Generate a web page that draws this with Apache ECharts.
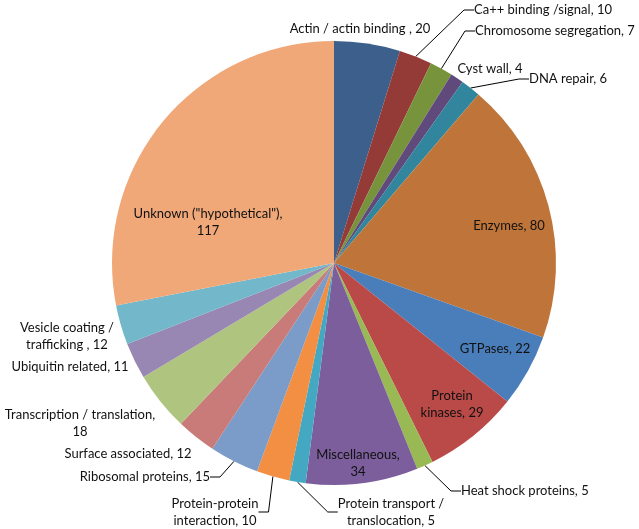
<!DOCTYPE html>
<html>
<head>
<meta charset="utf-8">
<script src="https://cdn.jsdelivr.net/npm/echarts@6/dist/echarts.min.js"></script>
<style>
  html, body { margin: 0; padding: 0; background: #fff; }
  #main { width: 639px; height: 529px; }
</style>
</head>
<body>
<div id="main"></div>
<script>
// categories and counts, clockwise from 12 o'clock
const categories = [
  "Actin / actin binding ",
  "Ca++ binding /signal",
  "Chromosome segregation",
  "Cyst wall",
  "DNA repair",
  "Enzymes",
  "GTPases",
  "Protein\nkinases",
  "Heat shock proteins",
  "Miscellaneous,\n",
  "Protein transport /\ntranslocation",
  "Protein-protein\ninteraction",
  "Ribosomal proteins",
  "Surface associated",
  "Transcription / translation,\n",
  "Ubiquitin related",
  "Vesicle coating /\ntrafficking ",
  "Unknown (\"hypothetical\"),\n"
];
const counts = [20, 10, 7, 4, 6, 80, 22, 29, 5, 34, 5, 10, 15, 12, 18, 11, 12, 117];

const colors = [
  "#3c5f8c", "#943a37", "#77933c", "#5f4a7b", "#31859c", "#bf7539",
  "#4a7ebb", "#b94a47", "#98b954", "#7b5e9b", "#45a8c2", "#f28f43",
  "#7b9bc8", "#c97b79", "#aec47f", "#9886b3", "#73b7ca", "#f0a878"
];

// label placement (x, y, align) and whether a leader line is drawn
const labelPos = [
  [360, 29, "center", false],
  [474, 10, "left", true],
  [475, 31, "left", true],
  [490, 69, "center", false],
  [529, 79, "left", true],
  [509, 226, "center", false],
  [495, 349, "center", false],
  [452, 404, "center", false],
  [461, 491, "left", true],
  [358, 463, "center", false],
  [391, 512, "center", true],
  [215, 512, "center", true],
  [210, 477, "right", true],
  [128, 454, "center", false],
  [80, 423, "center", false],
  [70, 367, "center", false],
  [67, 336, "center", false],
  [208, 222, "center", false]
];

const seriesData = categories.map((c, i) => ({
  name: c,
  value: counts[i],
  itemStyle: { color: colors[i] },
  labelLine: { show: labelPos[i][3] }
}));

const chart = echarts.init(document.getElementById("main"), null, { renderer: "canvas" });
chart.setOption({
  animation: false,
  series: [
    {
      type: "pie",
      center: [334, 263],
      radius: 222,
      startAngle: 90,
      clockwise: true,
      avoidLabelOverlap: false,
      itemStyle: { borderWidth: 0 },
      label: {
        show: true,
        position: "outside",
        fontFamily: "Lato",
        fontSize: 13,
        lineHeight: 17,
        color: "#111",
        formatter: (p) => {
          const n = p.name;
          return n.endsWith("\n") ? n + p.value : n + ", " + p.value;
        }
      },
      labelLine: {
        lineStyle: { color: "#000", width: 1 },
        length: 10,
        length2: 10
      },
      labelLayout: (params) => {
        const lp = labelPos[params.dataIndex];
        return {
          x: lp[0],
          y: lp[1],
          align: lp[2],
          verticalAlign: "middle",
          hideOverlap: false
        };
      },
      data: seriesData
    }
  ]
});
</script>
</body>
</html>
